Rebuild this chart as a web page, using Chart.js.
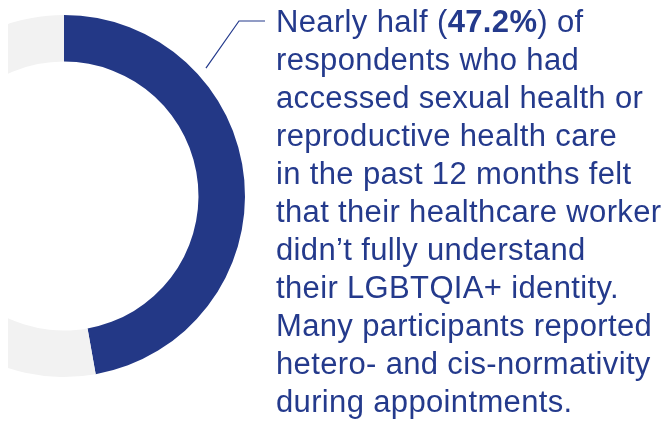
<!DOCTYPE html>
<html>
<head>
<meta charset="utf-8">
<script src="https://cdn.jsdelivr.net/npm/chart.js@4"></script>
<style>
  html, body { margin: 0; padding: 0; background: #fff; }
  #wrap { position: relative; width: 671px; height: 421px; overflow: hidden; }
  #ring { position: absolute; left: 0; top: 0; }
  #note {
    position: absolute; left: 276px; top: 2.5px;
    font-family: "Liberation Sans", Arial, Helvetica, sans-serif;
    font-size: 31px; line-height: 38px; color: #243a8c;
    white-space: nowrap; letter-spacing: 0.35px;
  }
  #note b { font-weight: bold; }
</style>
</head>
<body>
<div id="wrap">
  <canvas id="ring" width="671" height="421"></canvas>
  <div id="note"></div>
</div>
<script>
var labels = ['Did not fully understand', 'Other']
var shares = [47.2, 52.8]
var colours = ['#233886', '#f2f2f2']

// caption, the bold figure comes from the first share
var lines = [
  'Nearly half (<b>' + shares[0] + '%</b>) of',
  'respondents who had',
  'accessed sexual health or',
  'reproductive health care',
  'in the past 12 months felt',
  'that their healthcare worker',
  'didn\u2019t fully understand',
  'their LGBTQIA+ identity.',
  'Many participants reported',
  'hetero- and cis-normativity',
  'during appointments.'
]
document.getElementById('note').innerHTML = lines.join('<br>')

// thin pointer from the ring to the first line of text
var pointer = {
  id: 'pointer',
  afterDatasetsDraw: function (chart) {
    var arc = chart.getDatasetMeta(0).data[0]
    var a = (48 - 90) * Math.PI / 180
    var r = arc.outerRadius + 10
    var ctx = chart.ctx
    ctx.save()
    ctx.strokeStyle = '#243a8c'
    ctx.lineWidth = 1.2
    ctx.beginPath()
    ctx.moveTo(arc.x + r * Math.cos(a), arc.y + r * Math.sin(a))
    ctx.lineTo(239, 21)
    ctx.lineTo(265, 21)
    ctx.stroke()
    ctx.restore()
  }
}

var can = document.getElementById('ring')
var config = {
  type: 'doughnut',
  data: {
    labels: labels,
    datasets: [{
      data: shares,
      backgroundColor: colours,
      borderWidth: 0,
      hoverOffset: 0,
      radius: 181,
      cutout: '74.3%',
      // ring is cut off 8px in from the left edge
      clip: { left: -8, top: false, right: false, bottom: false }
    }]
  },
  options: {
    responsive: false,
    animation: false,
    // chart area sized so the ring's centre lands at (64, 196)
    layout: { padding: { left: 0, top: 0, right: 543, bottom: 29 } },
    plugins: { legend: { display: false }, tooltip: { enabled: false } }
  },
  plugins: [pointer]
}
var ring = new Chart(can, config)
</script>
</body>
</html>
